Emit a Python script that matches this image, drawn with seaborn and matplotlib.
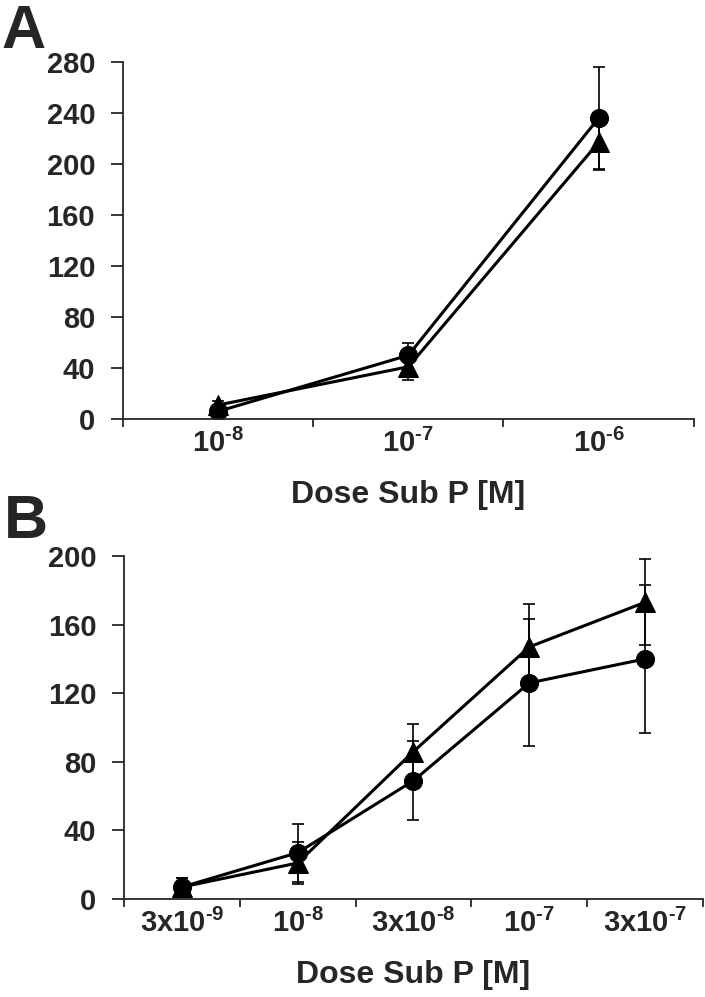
import numpy as np
import pandas as pd
import matplotlib
matplotlib.use("Agg")
import matplotlib.pyplot as plt
import seaborn as sns

# Panel A data
doses_a = [r"$10^{\text{-}8}$", r"$10^{\text{-}7}$", r"$10^{\text{-}6}$"]
circle_a = [6, 50, 236]
circle_a_err = [3, 10, 40]
triangle_a = [11, 41, 217]
triangle_a_err = [3, 10, 22]

# Panel B data
doses_b = [r"$3x10^{\text{-}9}$", r"$10^{\text{-}8}$", r"$3x10^{\text{-}8}$",
           r"$10^{\text{-}7}$", r"$3x10^{\text{-}7}$"]
circle_b = [7, 27, 69, 126, 140]
circle_b_err = [5, 17, 23, 37, 43]
triangle_b = [7, 21, 86, 147, 173]
triangle_b_err = [5, 12, 16, 25, 25]

sns.set_style("ticks")
plt.rcParams["font.family"] = ["Liberation Sans", "DejaVu Sans"]
plt.rcParams["font.weight"] = "bold"
plt.rcParams["mathtext.fontset"] = "custom"
plt.rcParams["mathtext.rm"] = "Liberation Sans:bold"
plt.rcParams["mathtext.it"] = "Liberation Sans:bold"
plt.rcParams["mathtext.bf"] = "Liberation Sans:bold"
plt.rcParams["mathtext.default"] = "rm"


def draw_panel(ax, doses, circ, circ_err, tri, tri_err, ymax):
    pos = np.arange(len(doses))
    for vals, errs in [(circ, circ_err), (tri, tri_err)]:
        ax.errorbar(pos, vals, yerr=errs, fmt="none", ecolor="black",
                    elinewidth=1.2, capsize=4.5, capthick=1.2, zorder=1)
    sns.lineplot(x=pos, y=circ, marker="o", markersize=13, color="black",
                 linewidth=2.2, markeredgecolor="black", ax=ax, zorder=2)
    sns.lineplot(x=pos, y=tri, marker="^", markersize=15, color="black",
                 linewidth=2.2, markeredgecolor="black", ax=ax, zorder=2)

    ax.set_xlim(-0.5, len(doses) - 0.5)
    ax.set_ylim(0, ymax)
    ax.set_yticks(np.arange(0, ymax + 1, 40))
    ax.set_xticks(np.arange(len(doses) + 1) - 0.5)
    ax.set_xticklabels([])
    ax.set_xticks(pos, minor=True)
    ax.set_xticklabels(doses, minor=True)
    ax.tick_params(axis="x", which="major", length=6, width=1.3, direction="out")
    ax.tick_params(axis="x", which="minor", length=0, pad=7, labelsize=21)
    ax.tick_params(axis="y", length=9, width=1.3, direction="out", pad=11, labelsize=21)
    for t in ax.get_yticklabels():
        t.set_fontweight("bold")
    for s in ["top", "right"]:
        ax.spines[s].set_visible(False)
    for s in ["left", "bottom"]:
        ax.spines[s].set_linewidth(1.3)
    ax.set_ylabel("")
    ax.set_xlabel("Dose Sub P [M]", fontsize=23, fontweight="bold", labelpad=16)


fig = plt.figure(figsize=(7.05, 9.97), dpi=100)
ax_a = fig.add_axes([0.1745, 0.5797, 0.8095, 0.3581])
ax_b = fig.add_axes([0.176, 0.0983, 0.821, 0.3440])

draw_panel(ax_a, doses_a, circle_a, circle_a_err, triangle_a, triangle_a_err, 280)
draw_panel(ax_b, doses_b, circle_b, circle_b_err, triangle_b, triangle_b_err, 200)

fig.text(0.002, 0.9519, "A", fontsize=44, fontweight="bold", va="baseline")
fig.text(0.006, 0.4604, "B", fontsize=44, fontweight="bold", va="baseline")

plt.savefig("out.png", dpi=100)
